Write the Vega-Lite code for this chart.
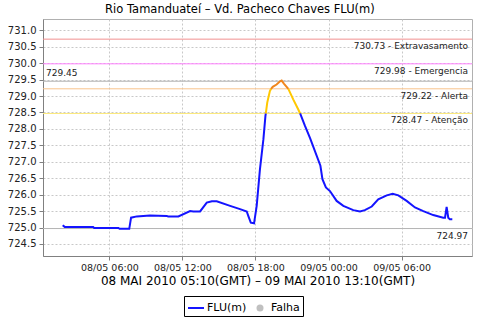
{
  "$schema": "https://vega.github.io/schema/vega-lite/v6.json",
  "autosize": "none",
  "width": 429,
  "height": 237,
  "padding": {"left": 43, "top": 19, "right": 8, "bottom": 64},
  "background": "white",
  "title": {
    "text": "Rio Tamanduateí – Vd. Pacheco Chaves FLU(m)",
    "font": "DejaVu Sans",
    "fontSize": 11.5,
    "fontWeight": "normal",
    "color": "#000",
    "anchor": "middle",
    "frame": "bounds",
    "offset": 4
  },
  "config": {
    "view": {"stroke": "#b0b0b0"},
    "axis": {
      "labelFont": "DejaVu Sans",
      "labelFontSize": 9.5,
      "labelColor": "#222",
      "domainColor": "#808080",
      "tickColor": "#808080",
      "tickSize": 4,
      "gridColor": "#c8c8c8",
      "gridDash": [2, 2],
      "titleFont": "DejaVu Sans",
      "titleFontWeight": "normal",
      "titleColor": "#000"
    }
  },
  "datasets": {
    "serie": [
      {"t": "2010-05-08T02:10", "v": 725.07, "cor": "FLU(m)", "seg": 1},
      {"t": "2010-05-08T02:20", "v": 725.02, "cor": "FLU(m)", "seg": 1},
      {"t": "2010-05-08T04:40", "v": 725.02, "cor": "FLU(m)", "seg": 1},
      {"t": "2010-05-08T04:45", "v": 724.99, "cor": "FLU(m)", "seg": 1},
      {"t": "2010-05-08T06:45", "v": 724.99, "cor": "FLU(m)", "seg": 1},
      {"t": "2010-05-08T06:50", "v": 724.96, "cor": "FLU(m)", "seg": 1},
      {"t": "2010-05-08T07:38", "v": 724.96, "cor": "FLU(m)", "seg": 1},
      {"t": "2010-05-08T07:47", "v": 725.30, "cor": "FLU(m)", "seg": 1},
      {"t": "2010-05-08T08:15", "v": 725.34, "cor": "FLU(m)", "seg": 1},
      {"t": "2010-05-08T09:20", "v": 725.37, "cor": "FLU(m)", "seg": 1},
      {"t": "2010-05-08T10:00", "v": 725.36, "cor": "FLU(m)", "seg": 1},
      {"t": "2010-05-08T10:43", "v": 725.35, "cor": "FLU(m)", "seg": 1},
      {"t": "2010-05-08T10:50", "v": 725.34, "cor": "FLU(m)", "seg": 1},
      {"t": "2010-05-08T11:40", "v": 725.34, "cor": "FLU(m)", "seg": 1},
      {"t": "2010-05-08T12:38", "v": 725.50, "cor": "FLU(m)", "seg": 1},
      {"t": "2010-05-08T12:54", "v": 725.49, "cor": "FLU(m)", "seg": 1},
      {"t": "2010-05-08T13:27", "v": 725.49, "cor": "FLU(m)", "seg": 1},
      {"t": "2010-05-08T14:00", "v": 725.76, "cor": "FLU(m)", "seg": 1},
      {"t": "2010-05-08T14:25", "v": 725.80, "cor": "FLU(m)", "seg": 1},
      {"t": "2010-05-08T14:49", "v": 725.80, "cor": "FLU(m)", "seg": 1},
      {"t": "2010-05-08T15:55", "v": 725.66, "cor": "FLU(m)", "seg": 1},
      {"t": "2010-05-08T16:44", "v": 725.56, "cor": "FLU(m)", "seg": 1},
      {"t": "2010-05-08T17:17", "v": 725.49, "cor": "FLU(m)", "seg": 1},
      {"t": "2010-05-08T17:25", "v": 725.35, "cor": "FLU(m)", "seg": 1},
      {"t": "2010-05-08T17:37", "v": 725.15, "cor": "FLU(m)", "seg": 1},
      {"t": "2010-05-08T17:53", "v": 725.13, "cor": "FLU(m)", "seg": 1},
      {"t": "2010-05-08T18:06", "v": 725.66, "cor": "FLU(m)", "seg": 1},
      {"t": "2010-05-08T18:22", "v": 726.77, "cor": "FLU(m)", "seg": 1},
      {"t": "2010-05-08T18:39", "v": 727.68, "cor": "FLU(m)", "seg": 1},
      {"t": "2010-05-08T18:49", "v": 728.39, "cor": "FLU(m)", "seg": 1},
      {"t": "2010-05-08T18:51", "v": 728.47, "cor": "FLU(m)", "seg": 1},
      {"t": "2010-05-08T18:51", "v": 728.47, "cor": "amarelo", "seg": 2},
      {"t": "2010-05-08T18:58", "v": 728.80, "cor": "amarelo", "seg": 2},
      {"t": "2010-05-08T19:11", "v": 729.15, "cor": "amarelo", "seg": 2},
      {"t": "2010-05-08T19:17", "v": 729.22, "cor": "amarelo", "seg": 2},
      {"t": "2010-05-08T19:17", "v": 729.22, "cor": "laranja", "seg": 3},
      {"t": "2010-05-08T19:25", "v": 729.28, "cor": "laranja", "seg": 3},
      {"t": "2010-05-08T19:44", "v": 729.35, "cor": "laranja", "seg": 3},
      {"t": "2010-05-08T20:01", "v": 729.45, "cor": "laranja", "seg": 3},
      {"t": "2010-05-08T20:09", "v": 729.47, "cor": "laranja", "seg": 3},
      {"t": "2010-05-08T20:20", "v": 729.38, "cor": "laranja", "seg": 3},
      {"t": "2010-05-08T20:42", "v": 729.22, "cor": "laranja", "seg": 3},
      {"t": "2010-05-08T20:42", "v": 729.22, "cor": "amarelo", "seg": 4},
      {"t": "2010-05-08T21:06", "v": 728.90, "cor": "amarelo", "seg": 4},
      {"t": "2010-05-08T21:31", "v": 728.59, "cor": "amarelo", "seg": 4},
      {"t": "2010-05-08T21:40", "v": 728.47, "cor": "amarelo", "seg": 4},
      {"t": "2010-05-08T21:40", "v": 728.47, "cor": "FLU(m)", "seg": 5},
      {"t": "2010-05-08T22:04", "v": 728.09, "cor": "FLU(m)", "seg": 5},
      {"t": "2010-05-08T22:29", "v": 727.72, "cor": "FLU(m)", "seg": 5},
      {"t": "2010-05-08T23:20", "v": 726.88, "cor": "FLU(m)", "seg": 5},
      {"t": "2010-05-08T23:30", "v": 726.47, "cor": "FLU(m)", "seg": 5},
      {"t": "2010-05-08T23:47", "v": 726.22, "cor": "FLU(m)", "seg": 5},
      {"t": "2010-05-09T00:07", "v": 726.11, "cor": "FLU(m)", "seg": 5},
      {"t": "2010-05-09T00:40", "v": 725.81, "cor": "FLU(m)", "seg": 5},
      {"t": "2010-05-09T01:13", "v": 725.66, "cor": "FLU(m)", "seg": 5},
      {"t": "2010-05-09T02:02", "v": 725.53, "cor": "FLU(m)", "seg": 5},
      {"t": "2010-05-09T02:35", "v": 725.49, "cor": "FLU(m)", "seg": 5},
      {"t": "2010-05-09T02:59", "v": 725.53, "cor": "FLU(m)", "seg": 5},
      {"t": "2010-05-09T03:33", "v": 725.64, "cor": "FLU(m)", "seg": 5},
      {"t": "2010-05-09T04:05", "v": 725.86, "cor": "FLU(m)", "seg": 5},
      {"t": "2010-05-09T04:47", "v": 725.98, "cor": "FLU(m)", "seg": 5},
      {"t": "2010-05-09T05:16", "v": 726.03, "cor": "FLU(m)", "seg": 5},
      {"t": "2010-05-09T05:44", "v": 725.98, "cor": "FLU(m)", "seg": 5},
      {"t": "2010-05-09T06:25", "v": 725.81, "cor": "FLU(m)", "seg": 5},
      {"t": "2010-05-09T07:06", "v": 725.61, "cor": "FLU(m)", "seg": 5},
      {"t": "2010-05-09T07:47", "v": 725.50, "cor": "FLU(m)", "seg": 5},
      {"t": "2010-05-09T08:36", "v": 725.38, "cor": "FLU(m)", "seg": 5},
      {"t": "2010-05-09T09:25", "v": 725.30, "cor": "FLU(m)", "seg": 5},
      {"t": "2010-05-09T09:34", "v": 725.30, "cor": "FLU(m)", "seg": 5},
      {"t": "2010-05-09T09:42", "v": 725.63, "cor": "FLU(m)", "seg": 5},
      {"t": "2010-05-09T09:50", "v": 725.30, "cor": "FLU(m)", "seg": 5},
      {"t": "2010-05-09T09:58", "v": 725.25, "cor": "FLU(m)", "seg": 5},
      {"t": "2010-05-09T10:10", "v": 725.25, "cor": "FLU(m)", "seg": 5}
    ],
    "limites": [
      {"nivel": 730.73, "rotulo": "730.73 - Extravasamento", "tipo": "Extravasamento"},
      {"nivel": 729.98, "rotulo": "729.98 - Emergencia", "tipo": "Emergencia"},
      {"nivel": 729.45, "rotulo": "729.45", "tipo": "Maximo"},
      {"nivel": 729.22, "rotulo": "729.22 - Alerta", "tipo": "Alerta"},
      {"nivel": 728.47, "rotulo": "728.47 - Atenção", "tipo": "Atencao"},
      {"nivel": 724.97, "rotulo": "724.97", "tipo": "Minimo"}
    ]
  },
  "layer": [
    {
      "data": {"name": "limites"},
      "mark": {"type": "rule", "strokeWidth": 1},
      "encoding": {
        "y": {"field": "nivel", "type": "quantitative"},
        "stroke": {
          "field": "tipo",
          "type": "nominal",
          "scale": {
            "domain": ["Extravasamento", "Emergencia", "Maximo", "Alerta", "Atencao", "Minimo"],
            "range": ["#f29090", "#ff80ff", "#b4b4b4", "#f8c48c", "#fbe97a", "#b4b4b4"]
          },
          "legend": null
        }
      }
    },
    {
      "data": {"name": "serie"},
      "mark": {"type": "line", "strokeWidth": 2},
      "encoding": {
        "x": {
          "field": "t",
          "type": "temporal",
          "scale": {
            "domain": [
              {"year": 2010, "month": 5, "date": 8, "hours": 0, "minutes": 33},
              {"year": 2010, "month": 5, "date": 9, "hours": 11, "minutes": 47}
            ]
          },
          "axis": {
            "format": "%d/%m %H:%M",
            "values": [
              {"year": 2010, "month": 5, "date": 8, "hours": 6},
              {"year": 2010, "month": 5, "date": 8, "hours": 12},
              {"year": 2010, "month": 5, "date": 8, "hours": 18},
              {"year": 2010, "month": 5, "date": 9, "hours": 0},
              {"year": 2010, "month": 5, "date": 9, "hours": 6}
            ],
            "tickCount": 10,
            "labelPadding": 2,
            "labelFlush": false,
            "title": "08 MAI 2010 05:10(GMT) – 09 MAI 2010 13:10(GMT)",
            "titleFontSize": 12,
            "titlePadding": 4
          }
        },
        "y": {
          "field": "v",
          "type": "quantitative",
          "scale": {"domain": [724.135, 731.343], "nice": false, "zero": false},
          "axis": {
            "values": [724.5, 725.0, 725.5, 726.0, 726.5, 727.0, 727.5, 728.0, 728.5, 729.0, 729.5, 730.0, 730.5, 731.0],
            "tickCount": 30,
            "format": ".1f",
            "title": null,
            "labelPadding": 3,
            "labelOverlap": false,
            "labelFontSize": 10
          }
        },
        "color": {
          "field": "cor",
          "type": "nominal",
          "scale": {
            "domain": ["FLU(m)", "Falha", "amarelo", "laranja"],
            "range": ["#1414ff", "#c0c0c0", "#ffc800", "#f0861c"]
          },
          "legend": {
            "values": ["FLU(m)", "Falha"],
            "title": null,
            "orient": "none",
            "legendX": 141,
            "legendY": 277,
            "direction": "horizontal",
            "strokeColor": "#000",
            "fillColor": "white",
            "padding": 3,
            "symbolType": "stroke",
            "symbolStrokeWidth": 2,
            "symbolSize": 256,
            "labelFont": "DejaVu Sans",
            "labelFontSize": 11,
            "labelColor": "#000",
            "labelOffset": 2,
            "columnPadding": 4,
            "encode": {
              "symbols": {
                "update": {
                  "shape": {"signal": "(datum.value === 'Falha' ? 'circle' : 'stroke')"},
                  "size": {"signal": "(datum.value === 'Falha' ? 49 : 256)"},
                  "fill": {"signal": "(datum.value === 'Falha' ? '#c0c0c0' : 'transparent')"},
                  "strokeWidth": {"signal": "(datum.value === 'Falha' ? 0 : 2)"}
                }
              }
            }
          }
        },
        "detail": {"field": "seg", "type": "nominal"}
      }
    },
    {
      "data": {"name": "limites"},
      "transform": [{"filter": "datum.tipo !== 'Maximo'"}],
      "mark": {"type": "text", "align": "right", "baseline": "top", "dx": -4, "dy": 3, "font": "DejaVu Sans", "fontSize": 9, "color": "#222"},
      "encoding": {
        "x": {"value": "width"},
        "y": {"field": "nivel", "type": "quantitative"},
        "text": {"field": "rotulo"}
      }
    },
    {
      "data": {"name": "limites"},
      "transform": [{"filter": "datum.tipo === 'Maximo'"}],
      "mark": {"type": "text", "align": "left", "baseline": "bottom", "dx": 3, "dy": -3, "font": "DejaVu Sans", "fontSize": 9, "color": "#222"},
      "encoding": {
        "x": {"value": 0},
        "y": {"field": "nivel", "type": "quantitative"},
        "text": {"field": "rotulo"}
      }
    }
  ]
}
